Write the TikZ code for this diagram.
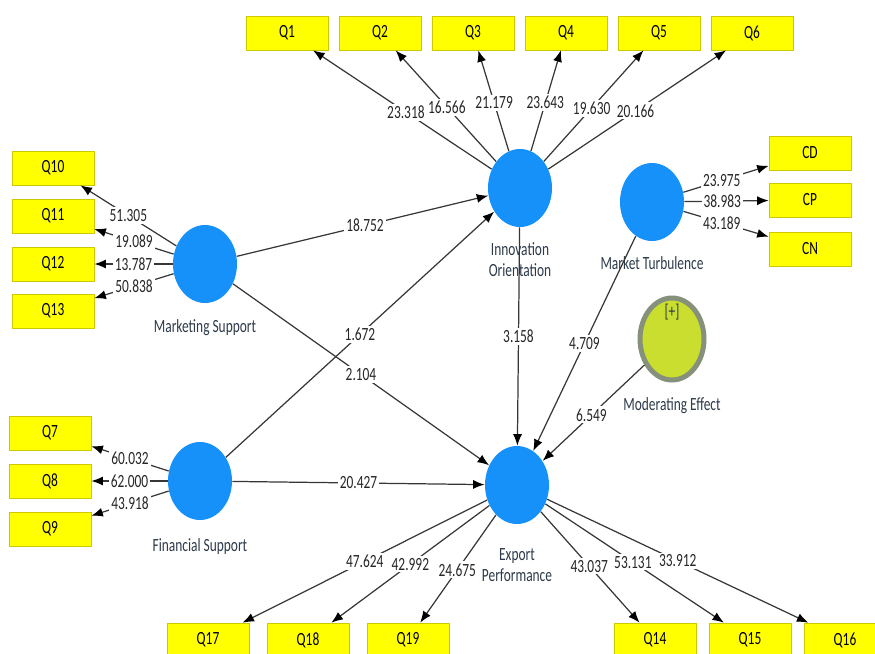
\documentclass[tikz,border=0pt]{standalone}
\usepackage{fontspec}
\newfontfamily\plsfont{Carlito}[FakeStretch=0.72]
\usepackage{xcolor}
\usepackage{tikz}
\usetikzlibrary{positioning}
\usetikzlibrary{shapes.geometric, arrows.meta}
\definecolor{plsblue}{RGB}{22,145,250}
\definecolor{plsyellow}{RGB}{255,255,0}
\definecolor{plsframe}{RGB}{205,200,0}
\definecolor{plslime}{RGB}{201,222,46}
\definecolor{plsring}{RGB}{134,145,124}
\definecolor{plsline}{RGB}{55,55,55}
\definecolor{plstext}{RGB}{45,58,74}
\tikzset{
    latent/.style={ellipse, fill=plsblue, minimum width=1.28cm, minimum height=1.56cm, inner sep=0pt},
    moder/.style={ellipse, fill=plslime, draw=plsring, line width=0.1cm, minimum width=1.28cm, minimum height=1.64cm, inner sep=0pt},
    item/.style={rectangle, draw=plsframe, fill=plsyellow, minimum height=0.68cm, minimum width=1.64cm, inner sep=0pt},
    caption/.style={text=plstext, align=center, inner sep=1pt},
    weight/.style={fill=white, inner sep=1.2pt, text=black!85},
    arrow/.style={draw=plsline, line width=0.7pt, -{Latex[length=2.3mm, width=1.8mm, color=black]}}
}

\begin{document}
\begin{tikzpicture}[x=0.02cm, y=-0.02cm, font=\plsfont\fontsize{10.6}{12}\selectfont]

\useasboundingbox (0,0) rectangle (875,653);

% constructs
\node [latent]                              (ms)        at (205,264) {};
\node [latent]                              (fs)        at (200,481) {};
\node [latent]                              (io)        at (520,188) {};
\node [latent]                              (mt)        at (652,202) {};
\node [latent]                              (ep)        at (517,485) {};
\node [moder]                               (me)        at (672,339) {};
\node [caption, anchor=north]               (meplus)    at ([yshift=-0.12cm]me.north) {[+]};

\node [caption, below=0.28cm of ms]         (mslab)     {Marketing Support};
\node [caption, below=0.33cm of fs]         (fslab)     {Financial Support};
\node [caption, below=0.26cm of io]         (iolab)     {Innovation\\Orientation};
\node [caption, below=0.27cm of mt]         (mtlab)     {Market Turbulence};
\node [caption, below=0.25cm of me]         (melab)     {Moderating Effect};
\node [caption, below=0.44cm of ep]         (eplab)     {Export\\Performance};

% indicators
\node [item]    (q1)    at (287,33)     {Q1};
\node [item]    (q2)    at (380,33)     {Q2};
\node [item]    (q3)    at (473,33)     {Q3};
\node [item]    (q4)    at (566,33)     {Q4};
\node [item]    (q5)    at (659,33)     {Q5};
\node [item]    (q6)    at (752,33)     {Q6};
\node [item]    (q10)   at (53,168)     {Q10};
\node [item]    (q11)   at (53,216)     {Q11};
\node [item]    (q12)   at (53,264)     {Q12};
\node [item]    (q13)   at (53,311)     {Q13};
\node [item]    (q7)    at (50,433)     {Q7};
\node [item]    (q8)    at (50,481)     {Q8};
\node [item]    (q9)    at (50,529)     {Q9};
\node [item]    (cd)    at (810,153)    {CD};
\node [item]    (cp)    at (810,200)    {CP};
\node [item]    (cn)    at (810,249)    {CN};
\node [item]    (q17)   at (208,640)    {Q17};
\node [item]    (q18)   at (308,640)    {Q18};
\node [item]    (q19)   at (408,640)    {Q19};
\node [item]    (q14)   at (655,640)    {Q14};
\node [item]    (q15)   at (750,640)    {Q15};
\node [item]    (q16)   at (845,640)    {Q16};

% outer model
\draw [arrow] (io) -- node [weight, pos=0.48] {23.318} (q1);
\draw [arrow] (io) -- node [weight, pos=0.49] {16.566} (q2);
\draw [arrow] (io) -- node [weight, pos=0.48] {21.179} (q3);
\draw [arrow] (io) -- node [weight, pos=0.48] {23.643} (q4);
\draw [arrow] (io) -- node [weight, pos=0.48] {19.630} (q5);
\draw [arrow] (io) -- node [weight, pos=0.49] {20.166} (q6);
\draw [arrow] (ms) -- node [weight, pos=0.5] {51.305} (q10);
\draw [arrow] (ms) -- node [weight, pos=0.5] {19.089} (q11);
\draw [arrow] (ms) -- node [weight, pos=0.5] {13.787} (q12);
\draw [arrow] (ms) -- node [weight, pos=0.5] {50.838} (q13);
\draw [arrow] (fs) -- node [weight, pos=0.5] {60.032} (q7);
\draw [arrow] (fs) -- node [weight, pos=0.5] {62.000} (q8);
\draw [arrow] (fs) -- node [weight, pos=0.5] {43.918} (q9);
\draw [arrow] (mt) -- node [weight, pos=0.45] {23.975} (cd);
\draw [arrow] (mt) -- node [weight, pos=0.45] {38.983} (cp);
\draw [arrow] (mt) -- node [weight, pos=0.45] {43.189} (cn);
\draw [arrow] (ep) -- node [weight, pos=0.5] {47.624} (q17);
\draw [arrow] (ep) -- node [weight, pos=0.5] {42.992} (q18);
\draw [arrow] (ep) -- node [weight, pos=0.51] {24.675} (q19);
\draw [arrow] (ep) -- node [weight, pos=0.49] {43.037} (q14);
\draw [arrow] (ep) -- node [weight, pos=0.49] {53.131} (q15);
\draw [arrow] (ep) -- node [weight, pos=0.5] {33.912} (q16);

% inner model
\draw [arrow] (ms) -- node [weight, pos=0.51] {18.752} (io);
\draw [arrow] (ms) -- node [weight, pos=0.5] {2.104} (ep);
\draw [arrow] (fs) -- node [weight, pos=0.5] {1.672} (io);
\draw [arrow] (fs) -- node [weight, pos=0.5] {20.427} (ep);
\draw [arrow] (io) -- node [weight, pos=0.5] {3.158} (ep);
\draw [arrow] (mt) -- node [weight, pos=0.5] {4.709} (ep);
\draw [arrow] (me) -- node [weight, pos=0.52] {6.549} (ep);

\end{tikzpicture}
\end{document}
